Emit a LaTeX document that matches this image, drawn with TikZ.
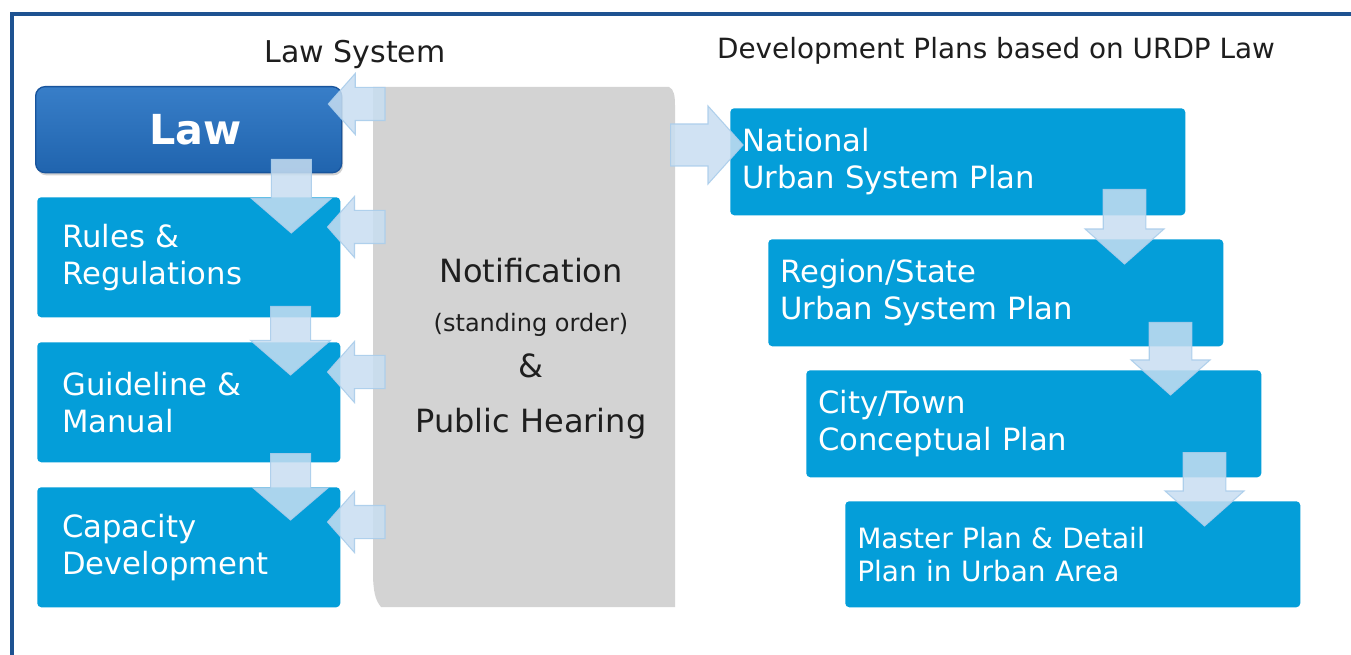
\documentclass[tikz,border=0pt]{standalone}
\usepackage{fontspec}
\setmainfont{DejaVu Sans}
\usetikzlibrary{calc,shadows}
\newcommand\pxu{0.75pt}
\definecolor{boxblue}{RGB}{4,158,217}
\definecolor{lawtop}{RGB}{56,126,200}
\definecolor{lawbot}{RGB}{32,100,174}
\definecolor{lawline}{RGB}{24,84,156}
\definecolor{panelgray}{RGB}{211,211,211}
\definecolor{framec}{RGB}{30,82,145}
\definecolor{arrfill}{RGB}{200,222,241}
\definecolor{arrline}{RGB}{170,205,235}
\definecolor{txt}{RGB}{30,30,30}
\tikzset{
  lbox/.style={fill=boxblue, rounded corners=3pt, inner xsep=25*\pxu, inner ysep=0pt,
    text width=253*\pxu, minimum height=120*\pxu, align=left, anchor=north west,
    text=white, font=\fontsize{23pt}{27.75pt}\selectfont},
  rbox/.style={fill=boxblue, rounded corners=3pt, inner xsep=12*\pxu, inner ysep=0pt,
    text width=431*\pxu, minimum height=107*\pxu, align=left, anchor=north west,
    text=white, font=\fontsize{23pt}{27.75pt}\selectfont},
  lawbox/.style={top color=lawtop, bottom color=lawbot, draw=lawline, line width=1pt,
    rounded corners=7pt, minimum width=306*\pxu, minimum height=86*\pxu, anchor=north west,
    text=white, font=\fontsize{31pt}{36pt}\selectfont\bfseries,
    drop shadow={shadow xshift=1pt, shadow yshift=-2pt, opacity=0.35}},
  heading/.style={anchor=base, text=txt},
  ptxt/.style={anchor=base, text=txt, font=\fontsize{24pt}{28pt}\selectfont},
  arrowbody/.style={fill=arrfill, fill opacity=0.85, draw=arrline, draw opacity=0.9,
    line width=0.8pt, line join=miter},
  downarr/.style n args={3}{arrowbody, to path={let \p1=(\tikztostart), \p2=(\tikztotarget) in
    (\x1-#1,\y1) -- (\x1+#1,\y1) -- (\x1+#1,\y2+#3) -- (\x1+#2,\y2+#3) -- (\x1,\y2)
    -- (\x1-#2,\y2+#3) -- (\x1-#1,\y2+#3) -- cycle}},
  leftarr/.style n args={3}{arrowbody, to path={let \p1=(\tikztostart), \p2=(\tikztotarget) in
    (\x1,\y1+#1) -- (\x1,\y1-#1) -- (\x2+#3,\y1-#1) -- (\x2+#3,\y1-#2) -- (\x2,\y1)
    -- (\x2+#3,\y1+#2) -- (\x2+#3,\y1+#1) -- cycle}},
  rightarr/.style n args={3}{arrowbody, to path={let \p1=(\tikztostart), \p2=(\tikztotarget) in
    (\x1,\y1+#1) -- (\x1,\y1-#1) -- (\x2-#3,\y1-#1) -- (\x2-#3,\y1-#2) -- (\x2,\y1)
    -- (\x2-#3,\y1+#2) -- (\x2-#3,\y1+#1) -- cycle}},
}
\begin{document}
\begin{tikzpicture}[x=0.75pt, y=-0.75pt]
\useasboundingbox (0,0) rectangle (1351,655);
\fill[white] (0,0) rectangle (1351,655);
% frame
\draw[framec, line width=2.4pt] (12,660) -- (12,14) -- (1356,14);
% headings
\node[heading, font=\fontsize{22.5pt}{26pt}\selectfont] (hlaw) at (355,63) {Law System};
\node[heading, font=\fontsize{20.9pt}{24pt}\selectfont] (hdev) at (996,59) {Development Plans based on URDP Law};
% panel
\node[minimum width=302*\pxu, minimum height=520*\pxu, anchor=north west, inner sep=0pt] (panel) at (373,87) {};
\fill[panelgray] (373,87) -- (669,87) .. controls (674,89) and (675,96) .. (675,106)
  -- (675,607) -- (381,607) .. controls (375,600) and (373,590) .. (373,572) -- cycle;
\node[ptxt] (notif) at (531,283) {Notification};
\node[ptxt, font=\fontsize{18pt}{22pt}\selectfont] (stand) at (531,332) {(standing order)};
\node[ptxt] (amp) at (531,378) {\&};
\node[ptxt] (pub) at (531,432) {Public Hearing};
% left column
\node[lawbox] (law) at (35,86) {\hspace*{10pt}Law};
\node[lbox] (rules) at (37,197) {Rules \&\\Regulations};
\node[lbox] (guide) at (37,342) {Guideline \&\\Manual};
\node[lbox] (cap) at (37,487) {Capacity\\Development};
% right column
\node[rbox] (nat) at (730,108) {National\\Urban System Plan};
\node[rbox] (reg) at (768,239) {Region/State\\Urban System Plan};
\node[rbox] (city) at (806,370) {City/Town\\Conceptual Plan};
\node[rbox, minimum height=106*\pxu, font=\fontsize{21pt}{24.75pt}\selectfont] (mp) at (845,501) {Master Plan \& Detail\\Plan in Urban Area};
% arrow end points
\coordinate (d1s) at ($(law.south east)+(-51,-14)$);
\coordinate (d1e) at ($(rules.north east)+(-50,36)$);
\coordinate (d2s) at ($(rules.south east)+(-50,-11)$);
\coordinate (d2e) at ($(guide.north east)+(-50,33)$);
\coordinate (d3s) at ($(guide.south east)+(-50,-9)$);
\coordinate (d3e) at ($(cap.north east)+(-50,33)$);
\coordinate (l1e) at ($(law.north east)+(-14,18)$);
\coordinate (l2e) at ($(rules.north east)+(-13,30)$);
\coordinate (l3e) at ($(guide.north east)+(-13,30)$);
\coordinate (l4e) at ($(cap.north east)+(-13,35)$);
\coordinate (l1s) at ($(panel.west |- l1e)+(12,0)$);
\coordinate (l2s) at ($(panel.west |- l2e)+(12,0)$);
\coordinate (l3s) at ($(panel.west |- l3e)+(12,0)$);
\coordinate (l4s) at ($(panel.west |- l4e)+(12,0)$);
\coordinate (r1e) at ($(nat.north west)+(13,37)$);
\coordinate (r1s) at ($(panel.east |- r1e)+(-5,0)$);
\coordinate (rd1s) at ($(nat.south east)+(-61,-26)$);
\coordinate (rd1e) at ($(rd1s |- reg.north)+(0,25)$);
\coordinate (rd2s) at ($(reg.south east)+(-53,-24)$);
\coordinate (rd2e) at ($(rd2s |- city.north)+(0,25)$);
\coordinate (rd3s) at ($(city.south east)+(-57,-25)$);
\coordinate (rd3e) at ($(rd3s |- mp.north)+(0,25)$);
% arrows
\draw[downarr={15pt}{30pt}{26pt}] (d1s) to (d1e);
\draw[downarr={15pt}{30pt}{26pt}] (d2s) to (d2e);
\draw[downarr={15pt}{28pt}{24pt}] (d3s) to (d3e);
\draw[leftarr={12.4pt}{22.9pt}{20.2pt}] (l1s) to (l1e);
\draw[leftarr={12.4pt}{22.9pt}{20.2pt}] (l2s) to (l2e);
\draw[leftarr={12.4pt}{22.9pt}{20.2pt}] (l3s) to (l3e);
\draw[leftarr={12.4pt}{22.9pt}{20.2pt}] (l4s) to (l4e);
\draw[rightarr={15.75pt}{29.25pt}{26.25pt}] (r1s) to (r1e);
\draw[downarr={16pt}{29.6pt}{26.25pt}] (rd1s) to (rd1e);
\draw[downarr={16pt}{29.6pt}{26.25pt}] (rd2s) to (rd2e);
\draw[downarr={16pt}{29.6pt}{26.25pt}] (rd3s) to (rd3e);
\end{tikzpicture}
\end{document}
